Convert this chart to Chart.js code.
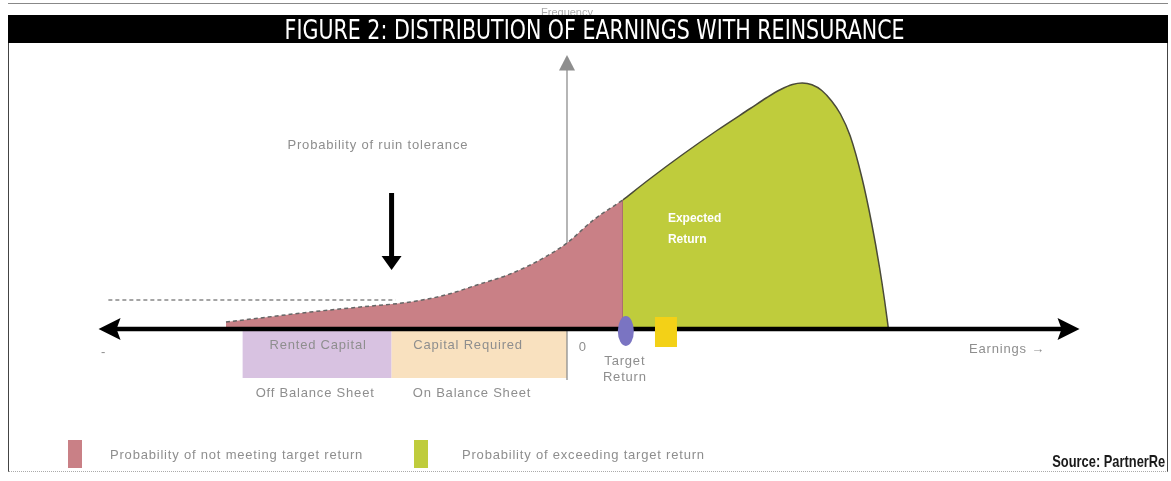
<!DOCTYPE html>
<html>
<head>
<meta charset="utf-8">
<script src="https://cdn.jsdelivr.net/npm/chart.js@4"></script>
<style>
  body { margin: 0; background: #fff; }
  #wrap { position: relative; width: 1171px; height: 481px; overflow: hidden; }
  canvas { position: absolute; left: 0; top: 0; }
  #topline { position: absolute; left: 8px; top: 3px; width: 1160px; height: 0; border-top: 1px solid #888; }
  #title {
    position: absolute; left: 8px; top: 15px; width: 1160px; height: 28px;
    background: #000; color: #fff; text-align: center; line-height: 29px;
    font-family: "DejaVu Sans", sans-serif; font-size: 27px;
    padding-left: 14px; box-sizing: border-box; white-space: nowrap;
  }
  #title span, #source span { display: inline-block; }
  #frame {
    position: absolute; left: 8px; top: 43px; width: 1160px; height: 429px;
    border-left: 1px solid #444; border-right: 1px solid #444; border-bottom: 1px dotted #aaa;
    box-sizing: border-box;
  }
  #source {
    position: absolute; right: 6px; top: 452px; white-space: nowrap;
    font-family: "Liberation Sans", Arial, sans-serif;
    font-weight: bold; font-size: 17px; color: #1a1a1a;
  }
</style>
</head>
<body>
<div id="wrap">
  <canvas id="c" width="1171" height="481"></canvas>
  <div id="topline"></div>
  <div id="title"><span>FIGURE 2: DISTRIBUTION OF EARNINGS WITH REINSURANCE</span></div>
  <div id="frame"></div>
  <div id="source"><span>Source: PartnerRe</span></div>
</div>
<script>
// earnings (x) vs frequency (y)
const lossX = [-34.8, -31.3, -26.2, -21.1, -16.0, -12.4, -9.2, -5.8, -2.4, 0, 2.7, 5.7];
const lossY = [2.8, 4.4, 6.8, 8.8, 10.8, 13.6, 17.6, 22, 28.4, 34.4, 43.6, 51.6];
const gainX = [5.7, 8.5, 11.8, 15.3, 18.7, 20.4, 21.8, 23.0, 24.0, 25.0, 26.0, 27.0, 27.9, 28.9, 30.1, 31.1, 31.9, 32.4, 32.8];
const gainY = [51.6, 60.2, 69.8, 79.4, 88.2, 92.6, 95.8, 97.8, 98.4, 97.7, 95.4, 91.2, 86.0, 77.2, 60.4, 42, 24.4, 11.6, 0];

const targetReturn = 5.8;
const expectedMark = 10.1;
const ruinLevel = 11.6;
const ruinArrowX = -17.9;
const capitalBands = ['Rented Capital', 'Capital Required'];
const capitalFrom = [-33.1, -17.9];
const capitalTo = [-17.9, 0];
const bandLabelX = [-25.4, -10.1];
const sheetLabels = ['Off Balance Sheet', 'On Balance Sheet'];
const sheetLabelX = [-25.7, -9.7];
const legendLabels = ['Probability of not meeting target return', 'Probability of exceeding target return'];

const PINK = '#c98086';
const GREEN = '#bfcc3c';
const BAND_COLORS = ['#d8c2e1', '#f9e1bf'];
const GREY = '#8e8e8e';
const FONT = '"Liberation Sans", Arial, sans-serif';

const pts = (xs, ys) => xs.map((x, i) => ({x: x, y: ys[i]}));

// squeeze the header texts to the condensed widths of the original
function fit(sel, width, origin) {
  const s = document.querySelector(sel + ' span');
  s.style.transformOrigin = origin;
  s.style.transform = 'scaleX(' + (width / s.getBoundingClientRect().width) + ')';
}
fit('#title', 620, 'center');
fit('#source', 113, 'right');

const diagram = {
  id: 'diagram',
  beforeDatasetsDraw(chart) {
    const {ctx, scales: {x, y}} = chart;
    ctx.save();
    // capital bands under the axis
    capitalBands.forEach((b, i) => {
      ctx.fillStyle = BAND_COLORS[i];
      const l = x.getPixelForValue(capitalFrom[i]), r = x.getPixelForValue(capitalTo[i]);
      ctx.fillRect(l, y.getPixelForValue(0), r - l, y.getPixelForValue(-19.6) - y.getPixelForValue(0));
    });
    // frequency axis
    const vx = x.getPixelForValue(0);
    ctx.strokeStyle = GREY;
    ctx.lineWidth = 1.3;
    ctx.beginPath();
    ctx.moveTo(vx, y.getPixelForValue(-20.4));
    ctx.lineTo(vx, y.getPixelForValue(104));
    ctx.stroke();
    ctx.fillStyle = GREY;
    ctx.beginPath();
    ctx.moveTo(vx, y.getPixelForValue(109.6));
    ctx.lineTo(vx - 8, y.getPixelForValue(103.4));
    ctx.lineTo(vx + 8, y.getPixelForValue(103.4));
    ctx.closePath();
    ctx.fill();
    ctx.fillStyle = '#aaa';
    ctx.font = '11px ' + FONT;
    ctx.textAlign = 'center';
    ctx.fillText('Frequency', vx, 16);
    ctx.restore();
  },
  afterDatasetsDraw(chart) {
    const {ctx, scales: {x, y}} = chart;
    const X = v => x.getPixelForValue(v), Y = v => y.getPixelForValue(v);
    ctx.save();
    const by = Y(0);
    // earnings axis with arrow heads
    const tipL = X(-47.8), tipR = X(52.3);
    ctx.strokeStyle = '#000';
    ctx.lineWidth = 4.5;
    ctx.beginPath();
    ctx.moveTo(tipL + 15, by);
    ctx.lineTo(tipR - 15, by);
    ctx.stroke();
    ctx.fillStyle = '#000';
    [[tipL, 1], [tipR, -1]].forEach(([t, d]) => {
      ctx.beginPath();
      ctx.moveTo(t, by);
      ctx.lineTo(t + d * 22, by - 11);
      ctx.lineTo(t + d * 18, by);
      ctx.lineTo(t + d * 22, by + 11);
      ctx.closePath();
      ctx.fill();
    });

    // ruin tolerance arrow
    const ax = X(ruinArrowX);
    ctx.strokeStyle = '#000';
    ctx.fillStyle = '#000';
    ctx.lineWidth = 5;
    ctx.beginPath();
    ctx.moveTo(ax, Y(54.4));
    ctx.lineTo(ax, Y(28));
    ctx.stroke();
    ctx.beginPath();
    ctx.moveTo(ax, Y(23.6));
    ctx.lineTo(ax - 10, Y(29.2));
    ctx.lineTo(ax + 10, Y(29.2));
    ctx.closePath();
    ctx.fill();

    // target return marker and expected marker
    ctx.fillStyle = '#7a74c2';
    ctx.beginPath();
    ctx.ellipse(X(targetReturn) + 2, by + 2, 8, 15, 0, 0, Math.PI * 2);
    ctx.fill();
    ctx.fillStyle = '#f3d117';
    ctx.fillRect(X(expectedMark) - 11, by - 12, 22, 30);

    // labels
    ctx.fillStyle = GREY;
    ctx.textAlign = 'center';
    ctx.textBaseline = 'middle';
    ctx.font = '13px ' + FONT;
    ctx.letterSpacing = '0.8px';
    ctx.fillText('Probability of ruin tolerance', X(-19.3), Y(73.6));
    capitalBands.forEach((b, i) => {
      ctx.fillText(b, X(bandLabelX[i]), Y(-6.4));
      ctx.fillText(sheetLabels[i], X(sheetLabelX[i]), Y(-25.6));
    });
    ctx.fillText('0', X(1.6), Y(-7.2));
    ctx.fillText('Target', X(targetReturn) + 1, Y(-12.8));
    ctx.fillText('Return', X(targetReturn) + 1, Y(-19.2));
    ctx.fillText('Earnings \u2192', X(44.9), Y(-8));
    ctx.fillText('-', X(-47.3), Y(-9.2));

    // legend
    ctx.textAlign = 'left';
    [[68, 110, PINK], [414, 462, GREEN]].forEach(([lx, tx, col], i) => {
      ctx.fillStyle = col;
      ctx.fillRect(lx, 440, 14, 28);
      ctx.fillStyle = GREY;
      ctx.fillText(legendLabels[i], tx, 455);
    });

    ctx.letterSpacing = '0px';
    ctx.fillStyle = '#fff';
    ctx.font = 'bold 12px ' + FONT;
    ctx.fillText('Expected', X(10.3), Y(44));
    ctx.fillText('Return', X(10.3), Y(35.6));
    ctx.restore();
  }
};

new Chart(document.getElementById('c'), {
  type: 'line',
  data: {
    datasets: [
      {
        data: pts(lossX, lossY),
        borderColor: '#666',
        borderWidth: 1.5,
        borderDash: [4, 3],
        backgroundColor: PINK,
        fill: 'origin',
        cubicInterpolationMode: 'monotone',
        pointRadius: 0,
      },
      {
        data: pts(gainX, gainY),
        borderColor: '#4a4a38',
        borderWidth: 1.5,
        backgroundColor: GREEN,
        fill: 'origin',
        cubicInterpolationMode: 'monotone',
        pointRadius: 0,
      },
      {
        data: [{x: targetReturn - 0.1, y: 0}, {x: targetReturn - 0.1, y: lossY[lossY.length - 1]}],
        borderColor: '#5b3b2e',
        borderWidth: 3,
        pointRadius: 0,
        fill: false,
      },
      {
        data: [{x: -46.8, y: ruinLevel}, {x: -17.5, y: ruinLevel}],
        borderColor: '#888',
        borderWidth: 1.5,
        borderDash: [4, 3],
        pointRadius: 0,
        fill: false,
      },
      {
        data: [{x: -14.5, y: ruinLevel}, {x: 0.1, y: ruinLevel}],
        borderColor: 'rgba(255,255,255,0.75)',
        borderWidth: 1.5,
        borderDash: [4, 3],
        pointRadius: 0,
        fill: false,
      },
    ],
  },
  options: {
    responsive: false,
    devicePixelRatio: 1,
    animation: false,
    layout: {padding: {left: 96.6, right: 89.5, top: 54, bottom: 152}},
    scales: {
      x: {type: 'linear', min: -48, max: 52.5, display: false},
      y: {min: 0, max: 110, display: false},
    },
    plugins: {
      legend: {display: false},
      tooltip: {enabled: false},
    },
  },
  plugins: [diagram],
});
</script>
</body>
</html>
